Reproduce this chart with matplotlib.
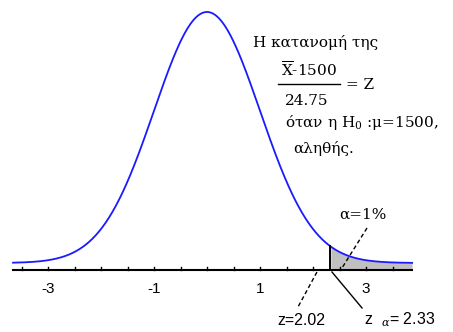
import numpy as np
import matplotlib.pyplot as plt

# datos del grafico
z_lim = [-3.66, 3.87]
tick_major = [-3, -1, 1, 3]
tick_minor = [-3.5, -3, -2.5, -2, -1.5, -1, -0.5, 0, 0.5, 1, 1.5, 2, 2.5, 3, 3.5]
z_alpha = 2.33
z_obs = 2.02
base = -0.0111  # linea del eje (la curva queda un poco por encima)

z = np.linspace(z_lim[0], z_lim[1], 600)
pdf = np.exp(-z**2 / 2) / np.sqrt(2 * np.pi)

fig = plt.figure(figsize=(4.53, 3.32), dpi=100)
ax = fig.add_axes([0, 0, 1, 1])
ax.set_xlim(-207 / 53, 246 / 53)
ax.set_ylim(-69 / 629.2, 263 / 629.2)
ax.axis('off')

plt.rcParams['mathtext.fontset'] = 'dejavuserif'

# curva normal
ax.plot(z, pdf, color='#1a1aff', lw=1.3)

# region critica
m = z >= z_alpha
ax.fill_between(z[m], base, pdf[m], color='#c0c0c0', lw=0)
ax.plot([z_alpha, z_alpha], [base, np.exp(-z_alpha**2 / 2) / np.sqrt(2 * np.pi)], color='black', lw=1.4)

# eje
ax.plot(z_lim, [base, base], color='black', lw=1.5)
for t in tick_minor:
    ax.plot([t, t], [base, base + 0.005], color='black', lw=1)
for t in tick_major:
    ax.text(t, base - 0.031, str(t), ha='center', va='center', fontsize=11, family='Liberation Sans')

serif = 'DejaVu Serif'
fs = 11
ax.text((253 - 207) / 53, (263 - 42) / 629.2, 'Η κατανομή της', fontsize=fs, family=serif, va='center')
ax.text((281 - 207) / 53, (263 - 70) / 629.2, r'$\overline{\mathrm{X}}$-1500', fontsize=fs, family=serif, va='center')
ax.plot([(278 - 207) / 53, (340 - 207) / 53], [(263 - 84) / 629.2] * 2, color='black', lw=1)
ax.text((346 - 207) / 53, (263 - 85) / 629.2, '= Z', fontsize=fs, family=serif, va='center')
ax.text((285 - 207) / 53, (263 - 101) / 629.2, '24.75', fontsize=fs, family=serif, va='center')
ax.text((285 - 207) / 53, (263 - 122) / 629.2, r'όταν η H$_{\mathrm{0}}$ :μ=1500,', fontsize=fs, family=serif, va='center')
ax.text((293 - 207) / 53, (263 - 148) / 629.2, 'αληθής.', fontsize=fs, family=serif, va='center')

# anotaciones
ax.text(2.94, 0.0763, 'α=1%', fontsize=fs, family=serif, ha='center', va='center')
ax.plot([3.019, 2.547], [0.0556, -0.0079], color='black', lw=1, ls=(0, (3, 2)))
ax.plot([2.075, 1.717], [-0.0143, -0.0699], color='black', lw=1, ls=(0, (3, 2)))
ax.text((301 - 207) / 53, -0.0906, 'z=' + str(z_obs), fontsize=11.5, family='Liberation Sans', ha='center', va='center')
ax.plot([2.358, 2.925], [-0.0143, -0.0715], color='black', lw=1)
ax.text((400 - 207) / 53, -0.0906, r'z  $_{\alpha}$= ' + str(z_alpha), fontsize=11.5, family='Liberation Sans', ha='center', va='center')

fig.savefig('out.png', dpi=100)
